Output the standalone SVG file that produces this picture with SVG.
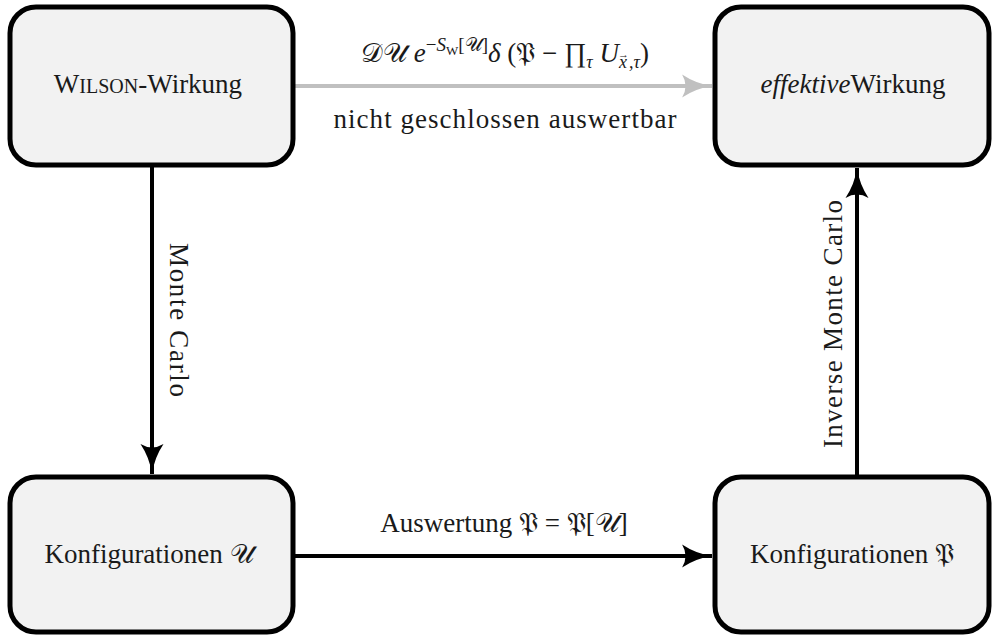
<svg xmlns="http://www.w3.org/2000/svg" width="992" height="637" viewBox="0 0 992 637">
<style>
.node{fill:#f2f2f2;stroke:#000;stroke-width:5}
text{font-size:27px;fill:#1a1a1a}
.i{font-style:italic}
.sc{font-size:20px}
.c{stroke:#000;stroke-width:4;fill:none}
.g{stroke:#c0c0c0;stroke-width:4;fill:none}
</style>
<defs>
<marker id="ab" viewBox="-6 0 26 20" refX="20" refY="10" markerWidth="30" markerHeight="23" markerUnits="userSpaceOnUse" orient="auto" overflow="visible">
<path d="M-6,0 Q6,8 20,10 Q6,12 -6,20 Q0,10 -6,0Z" fill="#000"/>
</marker>
<marker id="ag" viewBox="-6 0 26 20" refX="20" refY="10" markerWidth="30" markerHeight="23" markerUnits="userSpaceOnUse" orient="auto" overflow="visible">
<path d="M-6,0 Q6,8 20,10 Q6,12 -6,20 Q0,10 -6,0Z" fill="#c0c0c0"/>
</marker>
</defs>
<rect width="992" height="637" fill="#fff"/>
<g id="connectors" font-family="'Liberation Serif', 'Times New Roman', serif">
<line class="g" x1="293" y1="86" x2="712" y2="86" marker-end="url(#ag)"/>
<line class="c" x1="152" y1="165" x2="152" y2="474" marker-end="url(#ab)"/>
<line class="c" x1="293" y1="556" x2="712" y2="556" marker-end="url(#ab)"/>
<line class="c" x1="857" y1="477" x2="857" y2="168" marker-end="url(#ab)"/>
<text x="505" y="62" text-anchor="middle" font-family="'Liberation Serif', serif">𝒟𝒰 <tspan class="i">e</tspan><tspan dy="-11" font-size="19">−<tspan class="i">S</tspan></tspan><tspan dy="4" font-size="13">W</tspan><tspan dy="-4" font-size="19">[𝒰]</tspan><tspan dy="11" class="i">δ</tspan> (𝔓 − ∏<tspan dy="6" font-size="18" class="i">τ</tspan><tspan dy="-6" class="i"> U</tspan><tspan dy="6" font-size="18" class="i">x</tspan><tspan dx="-9" dy="-10" font-size="11">→</tspan><tspan dy="10" font-size="18" class="i">,τ</tspan><tspan dy="-6">)</tspan></text>
<text x="505" y="128" text-anchor="middle" textLength="343" lengthAdjust="spacing" font-family="'Liberation Serif', serif">nicht geschlossen auswertbar</text>
<text x="504" y="532" text-anchor="middle" font-family="'Liberation Serif', serif">Auswertung 𝔓 = 𝔓[𝒰]</text>
<text transform="translate(170,320) rotate(90)" text-anchor="middle" textLength="154" lengthAdjust="spacing" font-family="'Liberation Serif', serif">Monte Carlo</text>
<text transform="translate(842,324) rotate(-90)" text-anchor="middle" textLength="248" lengthAdjust="spacing" font-family="'Liberation Serif', serif">Inverse Monte Carlo</text>
</g>
<g id="wilson">
<rect class="node" x="10" y="7" width="283" height="158" rx="26"/>
<text x="148" y="93" text-anchor="middle" font-family="'Liberation Serif', serif">W<tspan class="sc">ILSON</tspan>-Wirkung</text>
</g>
<g id="effektiv">
<rect class="node" x="715" y="7" width="274" height="158" rx="26"/>
<text x="853" y="93" text-anchor="middle" font-family="'Liberation Serif', serif"><tspan class="i">effektive</tspan>Wirkung</text>
</g>
<g id="konfU">
<rect class="node" x="10" y="477" width="283" height="155" rx="26"/>
<text x="149" y="563" text-anchor="middle" font-family="'Liberation Serif', serif">Konfigurationen 𝒰</text>
</g>
<g id="konfP">
<rect class="node" x="715" y="477" width="274" height="155" rx="26"/>
<text x="852" y="563" text-anchor="middle" font-family="'Liberation Serif', serif">Konfigurationen 𝔓</text>
</g>
</svg>
